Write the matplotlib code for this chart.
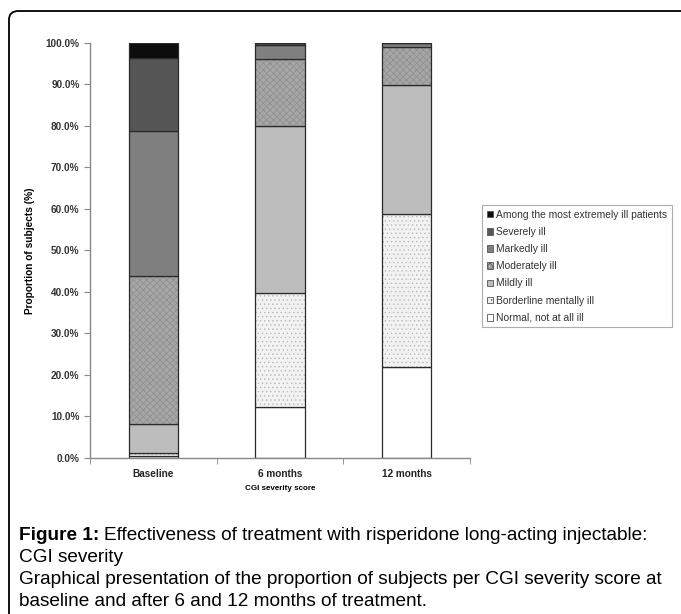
import numpy as np
import matplotlib
matplotlib.use("Agg")
import matplotlib.pyplot as plt
from matplotlib.patches import FancyBboxPatch, Patch

plt.rcParams['font.family'] = ['Liberation Sans', 'DejaVu Sans']

# CGI severity share per visit (%), bottom -> top
timepoints = ["Baseline", "6 months", "12 months"]
categories = ["Normal, not at all ill", "Borderline mentally ill", "Mildly ill",
              "Moderately ill", "Markedly ill", "Severely ill",
              "Among the most extremely ill patients"]
normal     = [0.4, 12.2, 22.0]
borderline = [0.7, 27.6, 36.8]
mildly     = [7.0, 40.3, 31.0]
moderately = [35.8, 16.0, 9.3]
markedly   = [34.8, 3.5, 0.9]
severely   = [17.7, 0.4, 0.0]
extreme    = [3.6, 0.0, 0.0]
series = [normal, borderline, mildly, moderately, markedly, severely, extreme]

# fill, hatch, hatch colour
styles = [("#ffffff", None, None),
          ("#f2f2f2", "....", "#b8b8b8"),
          ("#bdbdbd", None, None),
          ("#a6a6a6", "xxxxx", "#8e8e8e"),
          ("#7f7f7f", None, None),
          ("#565656", None, None),
          ("#0d0d0d", None, None)]

fig = plt.figure(figsize=(6.81, 6.14), dpi=100)
ax = fig.add_axes([0.1322, 0.2541, 0.5578, 0.6759])

x = np.arange(len(timepoints))
w = 0.39
plt.rcParams['hatch.linewidth'] = 0.5
bottom = np.zeros(len(timepoints))
for vals, (fc, hatch, hc) in zip(series, styles):
    vals = np.array(vals)
    if hatch:
        ax.bar(x, vals, w, bottom=bottom, color=fc, hatch=hatch, edgecolor=hc, lw=0)
    else:
        ax.bar(x, vals, w, bottom=bottom, color=fc, lw=0)
    ax.bar(x, vals, w, bottom=bottom, fill=False, edgecolor="#2a2a2a", lw=0.9)
    bottom += vals

ax.set_xlim(-0.5, 2.5)
ax.set_ylim(0, 100)
ax.set_yticks(np.arange(0, 101, 10))
ax.set_yticklabels([f"{v:.1f}%" for v in np.arange(0, 101, 10)])
ax.set_xticks(x)
ax.set_xticklabels(timepoints)
ax.set_xticks([-0.5, 0.5, 1.5, 2.5], minor=True)
ax.tick_params(axis="x", which="major", length=0, pad=8, labelsize=7.2, colors="#222")
ax.tick_params(axis="x", which="minor", length=4, color="#888", direction="out")
ax.tick_params(axis="y", length=4, color="#888", labelsize=7.2, labelcolor="#333")
for lab in ax.get_yticklabels() + ax.get_xticklabels():
    lab.set_fontweight("bold")
for s in ("top", "right"):
    ax.spines[s].set_visible(False)
for s in ("left", "bottom"):
    ax.spines[s].set_color("#888")
    ax.spines[s].set_linewidth(1.0)

ax.set_ylabel("Proportion of subjects (%)", fontsize=7.3, fontweight="bold", labelpad=8)
ax.set_xlabel("CGI severity score", fontsize=5.8, fontweight="bold", labelpad=4)

handles = [Patch(facecolor=fc, edgecolor="#555", hatch=hatch, lw=0.6)
           for fc, hatch, hc in styles][::-1]
leg = fig.legend(handles, categories[::-1], loc="upper left",
                 bbox_to_anchor=(0.708, 0.666), fontsize=7.4, frameon=True,
                 fancybox=False, edgecolor="#999", handlelength=0.6, handleheight=0.6,
                 handletextpad=0.3, labelspacing=0.7, borderpad=0.45,
                 borderaxespad=0)
for t in leg.get_texts():
    t.set_color("#333")
leg.get_frame().set_linewidth(0.8)

# rounded frame around figure and caption
frame = FancyBboxPatch((9 / 681, -0.05), 1.1, 1 - 11 / 614 + 0.05,
                       boxstyle="round,pad=0,rounding_size=0.014",
                       transform=fig.transFigure, fill=False, ec="black", lw=1.3)
fig.patches.append(frame)

# caption: bold lead-in followed by regular text on the same line
fs = 13.7
x0 = 19 / 681
lead = fig.text(x0, 1 - 536 / 614, "Figure 1:", fontsize=fs, va="center",
                fontweight="bold")
fig.canvas.draw()
bb = lead.get_window_extent().transformed(fig.transFigure.inverted())
fig.text(bb.x1 + 5 / 681, 1 - 536 / 614,
         "Effectiveness of treatment with risperidone long-acting injectable:",
         fontsize=fs, va="center")
fig.text(x0, 1 - 557 / 614, "CGI severity", fontsize=fs, va="center")
fig.text(x0, 1 - 580 / 614,
         "Graphical presentation of the proportion of subjects per CGI severity score at",
         fontsize=fs, va="center")
fig.text(x0, 1 - 601 / 614, "baseline and after 6 and 12 months of treatment.",
         fontsize=fs, va="center")

fig.savefig("out.png", dpi=100)
